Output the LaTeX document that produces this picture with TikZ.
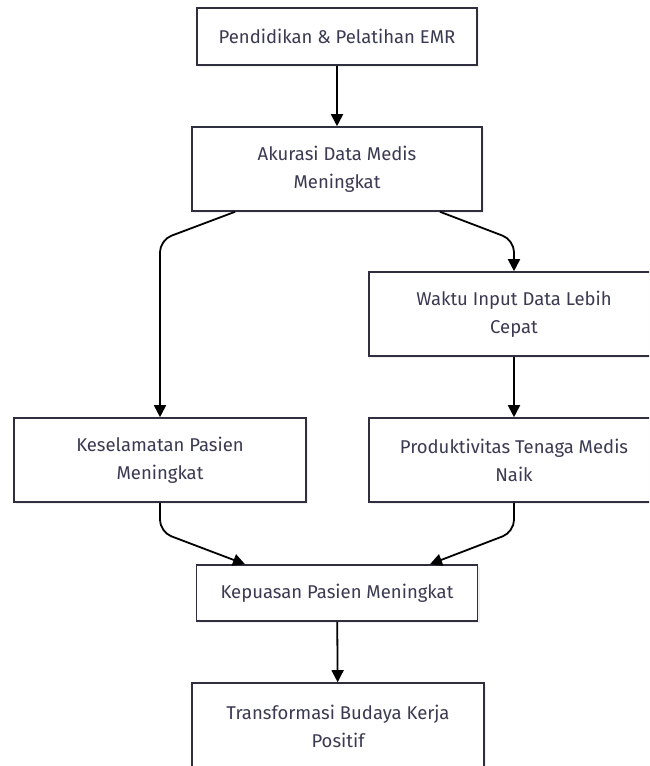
\documentclass[tikz,border=0pt]{standalone}
\usepackage{fontspec}
\setmainfont{Fira Sans}
\usepackage{tikz}
\usetikzlibrary{arrows.meta,shadows}
\definecolor{boxline}{HTML}{2F2F3F}
\definecolor{boxtext}{HTML}{3A3A52}

\begin{document}
\begin{tikzpicture}[x=1pt,y=-1pt,
  stepbox/.style={draw=boxline,line width=1.6pt,fill=white,inner sep=0pt,
              align=center,text=boxtext,font=\fontsize{18.5}{28}\selectfont,
              drop shadow={opacity=0.12,shadow xshift=2pt,shadow yshift=-2pt}},
  arr/.style={-{Triangle[width=12pt,length=12pt]},line width=1.8pt,black,
              rounded corners=12pt}
]
\useasboundingbox (0,0) rectangle (649,766);
\clip (0,0) rectangle (649,766);
\node[stepbox,minimum width=280pt,minimum height=57pt] (pend) at (337,36.5) {Pendidikan \& Pelatihan EMR};
\node[stepbox,minimum width=290pt,minimum height=84pt] (akur) at (337,169) {Akurasi Data Medis\\Meningkat};
\node[stepbox,minimum width=290pt,minimum height=84pt] (wakt) at (514,314) {Waktu Input Data Lebih\\Cepat};
\node[stepbox,minimum width=292pt,minimum height=84pt] (kesl) at (160,460) {Keselamatan Pasien\\Meningkat};
\node[stepbox,minimum width=290pt,minimum height=84pt] (prod) at (514,460) {Produktivitas Tenaga Medis\\Naik};
\node[stepbox,minimum width=281pt,minimum height=56pt] (kepu) at (337,593) {Kepuasan Pasien Meningkat};
\node[stepbox,minimum width=292pt,minimum height=86pt] (tran) at (338,726) {Transformasi Budaya Kerja\\Positif};
\draw[arr] (pend) -- (akur);
\draw[arr] ([xshift=-102pt]akur.south) -- (160,240) -- (kesl.north);
\draw[arr] ([xshift=103pt]akur.south) -- (514,240) -- (wakt.north);
\draw[arr] (wakt) -- (prod);
\draw[arr] (kesl.south) -- (160,532) -- ([xshift=-92pt]kepu.north);
\draw[arr] (prod.south) -- (514,532) -- ([xshift=93pt]kepu.north);
\draw[arr] (kepu) -- (tran);
\end{tikzpicture}
\end{document}
